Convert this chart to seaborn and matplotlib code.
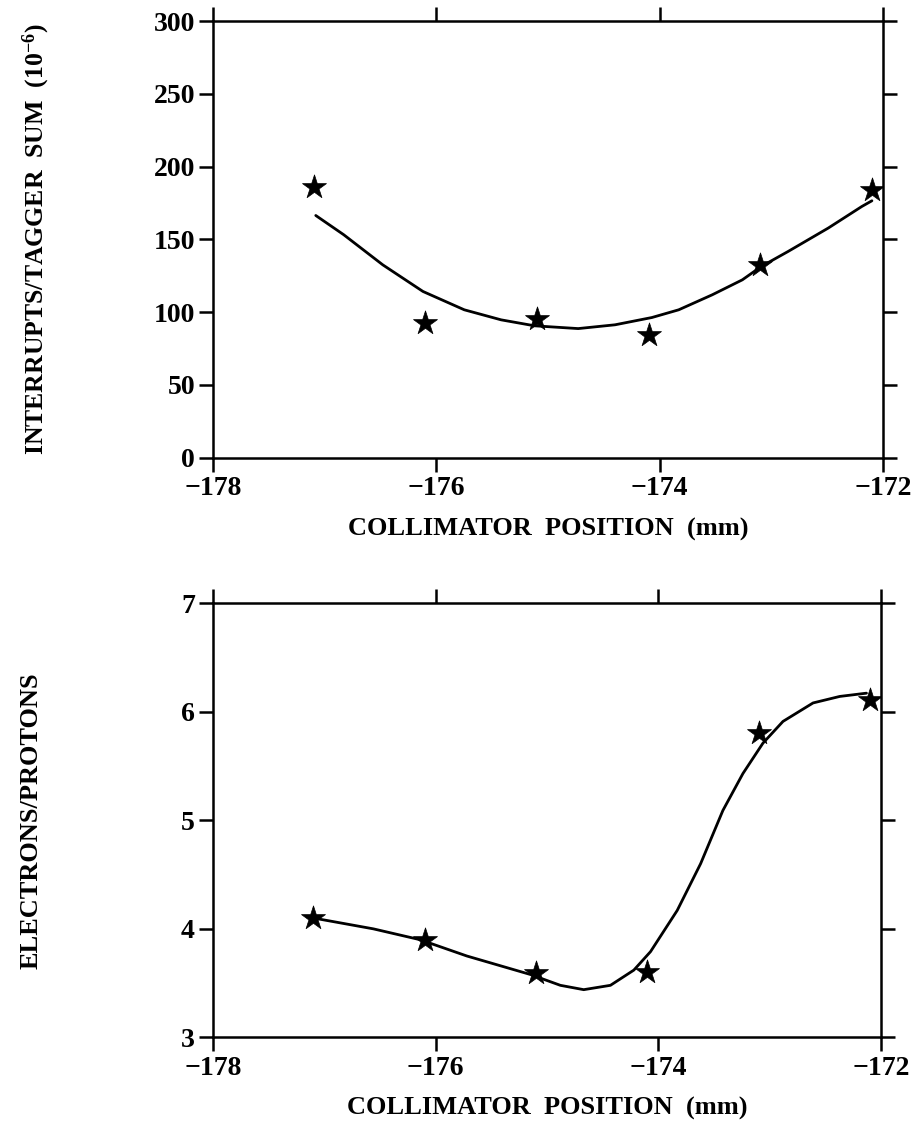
import numpy as np
import pandas as pd
import matplotlib
matplotlib.use("Agg")
import matplotlib.pyplot as plt
import seaborn as sns

# ---- data ----
pos = [-177.1, -176.1, -175.1, -174.1, -173.1, -172.1]
interrupts = [186, 92.6, 95.4, 84.4, 132.5, 184]
e_over_p = [4.10, 3.90, 3.59, 3.60, 5.80, 6.11]

# fitted curves
fit1_x = [-177.08, -176.83, -176.48, -176.12, -175.75, -175.42, -175.12, -174.73,
          -174.40, -174.07, -173.83, -173.53, -173.26, -173.09, -172.85, -172.49,
          -172.19, -172.10]
fit1_y = [166.4, 153.2, 132.5, 114.2, 101.6, 94.7, 90.6, 88.7,
          91.3, 96.3, 101.6, 111.9, 122.2, 131.4, 141.7, 157.8,
          172.6, 176.5]
fit2_x = [-177.10, -176.56, -176.14, -175.72, -175.15, -174.88, -174.67, -174.43,
          -174.22, -174.07, -173.83, -173.62, -173.42, -173.24, -173.06, -172.88,
          -172.61, -172.37, -172.13]
fit2_y = [4.10, 4.00, 3.90, 3.75, 3.58, 3.48, 3.44, 3.48,
          3.62, 3.79, 4.17, 4.60, 5.09, 5.43, 5.71, 5.91,
          6.08, 6.14, 6.17]

xticks = [-178, -176, -174, -172]
yticks1 = [0, 50, 100, 150, 200, 250, 300]
yticks2 = [3, 4, 5, 6, 7]
xlabel = "COLLIMATOR  POSITION  (mm)"
ylabel1 = "INTERRUPTS/TAGGER  SUM  (10$^{-6}$)"
ylabel2 = "ELECTRONS/PROTONS"

sns.set_theme(style="ticks")
plt.rcParams['font.family'] = ['Liberation Serif', 'DejaVu Serif']
plt.rcParams['mathtext.fontset'] = 'custom'
plt.rcParams['mathtext.rm'] = 'Liberation Serif:bold'
plt.rcParams['mathtext.it'] = 'Liberation Serif:bold'
plt.rcParams['mathtext.bf'] = 'Liberation Serif:bold'
for k in ['text.color', 'axes.labelcolor', 'xtick.color', 'ytick.color',
          'xtick.labelcolor', 'ytick.labelcolor', 'axes.edgecolor']:
    plt.rcParams[k] = 'black'

fig = plt.figure(figsize=(9.17, 11.24), dpi=100)
ax1 = fig.add_axes([0.2323, 0.5928, 0.7307, 0.3885])
ax2 = fig.add_axes([0.2323, 0.0770, 0.7284, 0.3865])

df1 = pd.DataFrame({"x": pos, "y": interrupts})
df2 = pd.DataFrame({"x": pos, "y": e_over_p})
c1 = pd.DataFrame({"x": fit1_x, "y": fit1_y})
c2 = pd.DataFrame({"x": fit2_x, "y": fit2_y})

for ax, df, c, yt, yl, yfs in [(ax1, df1, c1, yticks1, ylabel1, 18.5),
                               (ax2, df2, c2, yticks2, ylabel2, 19)]:
    sns.lineplot(data=c, x="x", y="y", ax=ax, color="black", linewidth=2.0,
                 sort=False, estimator=None)
    sns.scatterplot(data=df, x="x", y="y", ax=ax, marker="*", s=330,
                    color="black", edgecolor="black", linewidth=0.5, zorder=5)
    ax.set_xlim(-178, -172)
    ax.set_ylim(yt[0], yt[-1])
    ax.set_xticks(xticks)
    ax.set_yticks(yt)
    ax.set_xticklabels([f"\u2212{abs(v)}" for v in xticks], fontsize=20, fontweight="bold",
                       color="black")
    ax.set_yticklabels([str(v) for v in yt], fontsize=20, fontweight="bold", color="black")
    ax.tick_params(axis="both", which="major", direction="out", length=10, width=1.8,
                   top=True, right=True, color="black", pad=3)
    for s in ax.spines.values():
        s.set_linewidth(1.8)
        s.set_color("black")
    ax.set_xlabel(xlabel, fontsize=19, fontweight="bold", labelpad=12, color="black")
    ax.set_ylabel(yl, fontsize=yfs, fontweight="bold", color="black")

ax1.yaxis.set_label_coords(-0.24, 0.5)
ax2.yaxis.set_label_coords(-0.255, 0.5)

fig.savefig("out.png", dpi=100, facecolor="white")
